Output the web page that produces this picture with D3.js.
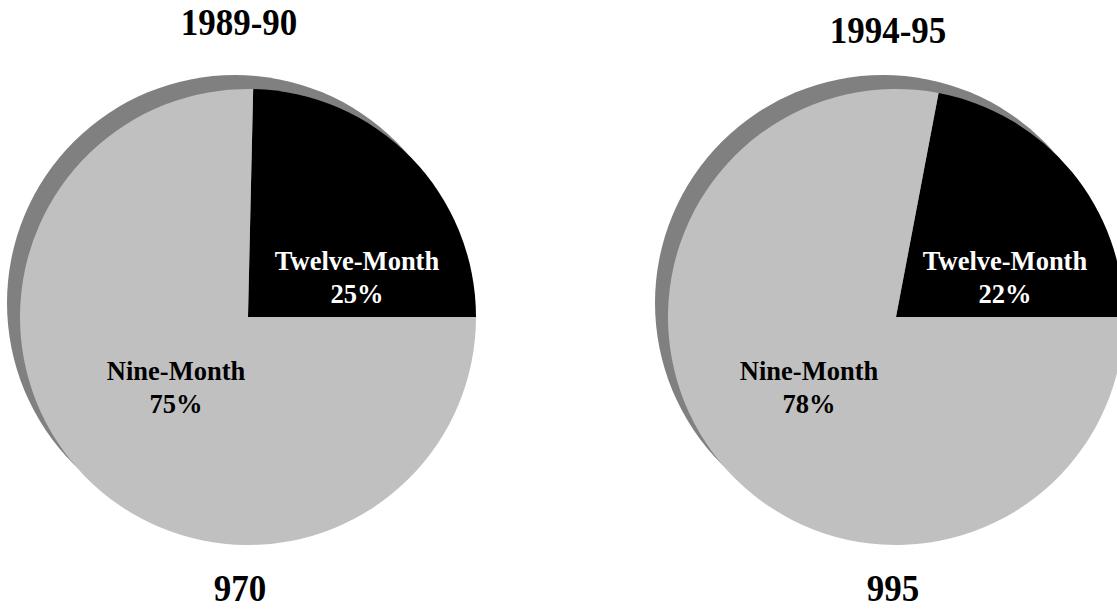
<!DOCTYPE html>
<html>
<head>
<meta charset="utf-8">
<script src="https://cdn.jsdelivr.net/npm/d3@7"></script>
<style>
  html, body { margin: 0; padding: 0; background: #fff; }
  svg { display: block; }
</style>
</head>
<body>
<svg id="chart"></svg>
<script>
// data
const years = ['1989-90', '1994-95']
const totals = [970, 995]
const categories = ['Twelve-Month', 'Nine-Month']
const twelveMonth = [239, 219]
const nineMonth = [731, 776]
const shareLabels = [['25%', '75%'], ['22%', '78%']]

const width = 1117
const height = 609
const FONT = "'Liberation Serif', 'Times New Roman', serif"
const COLORS = { 'Twelve-Month': '#000000', 'Nine-Month': '#c0c0c0' }
const TEXT_COLORS = { 'Twelve-Month': '#ffffff', 'Nine-Month': '#000000' }

// layout of each pie
const pies = [
  { cx: 248, cy: 317, titleX: 239, titleY: 35, totalX: 240,
    labels: { 'Twelve-Month': [109, -47], 'Nine-Month': [-72, 63] } },
  { cx: 896, cy: 317, titleX: 888, titleY: 43, totalX: 893,
    labels: { 'Twelve-Month': [109, -47], 'Nine-Month': [-87, 63] } },
]
const radius = 228
const shadowOffset = [-13, -14]

const svg = d3.select('#chart').attr('width', width).attr('height', height)

const arc = d3.arc().innerRadius(0).outerRadius(radius)

// big bold text, a bit taller than normal like the original
function bigText(x, y, str) {
  svg.append('text')
    .attr('transform', `translate(${x},${y}) scale(1,1.1)`)
    .attr('text-anchor', 'middle')
    .attr('font-family', FONT)
    .attr('font-weight', 'bold')
    .attr('font-size', '35px')
    .attr('fill', '#000')
    .text(str)
}

pies.forEach((p, i) => {
  const rows = [
    { name: categories[0], value: twelveMonth[i], label: shareLabels[i][0] },
    { name: categories[1], value: nineMonth[i], label: shareLabels[i][1] },
  ]
  const total = d3.sum(rows, d => d.value)
  // twelve-month slice ends at 3 o'clock
  const start = Math.PI / 2 - 2 * Math.PI * rows[0].value / total
  const pie = d3.pie().sort(null).value(d => d.value)
    .startAngle(start).endAngle(start + 2 * Math.PI)

  const g = svg.append('g').attr('transform', `translate(${p.cx},${p.cy})`)

  // shadow
  g.append('circle')
    .attr('cx', shadowOffset[0]).attr('cy', shadowOffset[1])
    .attr('r', radius)
    .attr('fill', '#808080')

  g.selectAll('path.slice')
    .data(pie(rows))
    .join('path')
    .attr('class', 'slice')
    .attr('d', arc)
    .attr('fill', d => COLORS[d.data.name])

  // slice labels
  rows.forEach(r => {
    const [lx, ly] = p.labels[r.name]
    const t = g.append('text')
      .attr('x', lx).attr('y', ly)
      .attr('text-anchor', 'middle')
      .attr('font-family', FONT)
      .attr('font-weight', 'bold')
      .attr('font-size', '26.5px')
      .attr('fill', TEXT_COLORS[r.name])
    t.append('tspan').attr('x', lx).text(r.name)
    t.append('tspan').attr('x', lx).attr('dy', 32.5).text(r.label)
  })

  bigText(p.titleX, p.titleY, years[i])
  bigText(p.totalX, 601, totals[i])
})
</script>
</body>
</html>
